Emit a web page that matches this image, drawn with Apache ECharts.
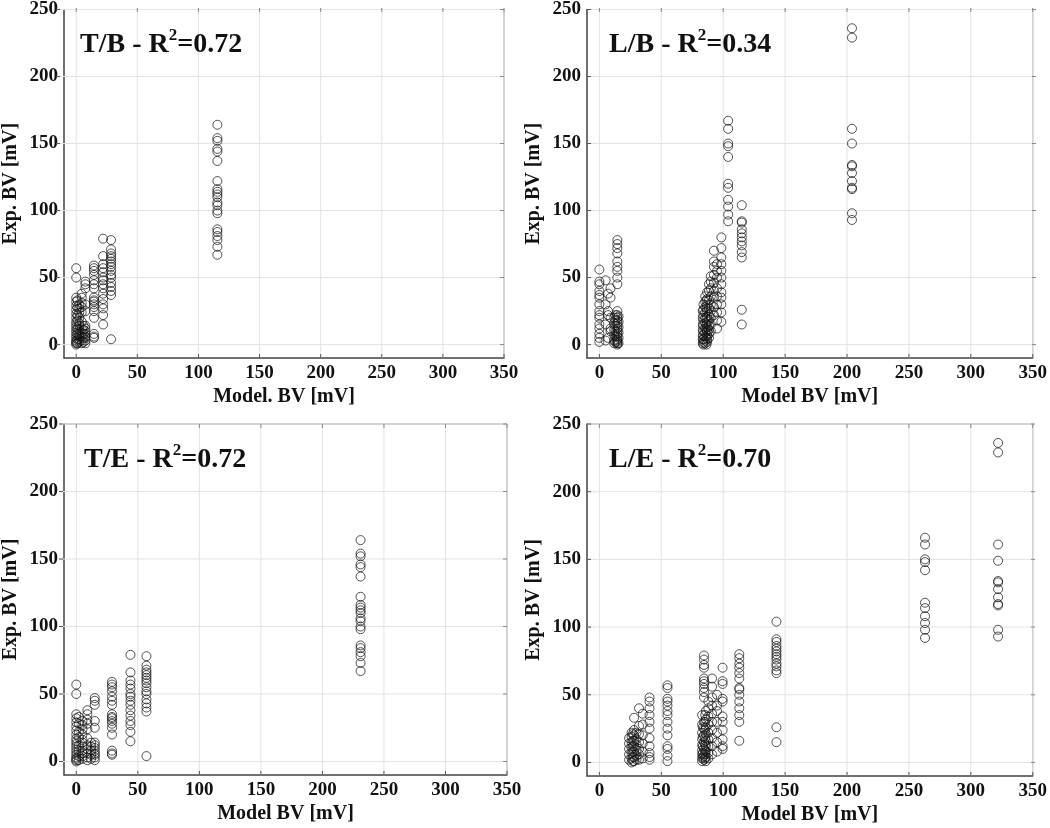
<!DOCTYPE html>
<html><head><meta charset="utf-8">
<script src="https://cdn.jsdelivr.net/npm/echarts@6/dist/echarts.min.js"></script>
<style>html,body{margin:0;padding:0;background:#fff}#c{width:1050px;height:828px}</style>
</head><body><div id="c"></div>
<script>
// ---- data (x = model BV column, ys = measured Exp. BV values) ----
const xTicks = [0, 50, 100, 150, 200, 250, 300, 350];
const yTicks = [0, 50, 100, 150, 200, 250];

// T/B panel
const tbX = [0, 1, 2.5, 4.5, 6, 7.5, 14.5, 22, 28.5, 115.5];
const tbY = [
  [57,50,35,32,29,26,23,20,17,15,13,11,9,7,5,3,2,1,0],
  [33,28,22,18,12,8,4,1],
  [30,27,24,20,16,14,11,8,6,4,2],
  [38,35,31,28,24,17,12,9,6,3,1],
  [14,11,8,5,2],
  [47,45,42,30,25,14,12,10,8,6,5,3,1],
  [59,57,55,52,48,45,42,35,33,32,30,28,25,20,8,6,5],
  [79,66,60,57,54,50,48,45,42,38,34,30,27,22,15],
  [78,71,68,66,64,62,60,58,55,52,50,46,43,40,37,4],
  [164,154,152,146,144,137,122,116,114,112,110,106,104,100,98,86,84,81,78,73,67]
];

// T/E panel
const teX = [0, 2, 5, 9, 12, 15, 29, 44, 57, 231];
const teY = [
  [57,50,35,32,29,26,23,20,17,15,13,11,9,7,5,3,2,1,0],
  [33,28,22,18,12,8,4,1],
  [30,27,24,20,16,14,11,8,6,4,2],
  [38,35,31,28,24,17,12,9,6,3,1],
  [14,11,8,5,2],
  [47,45,42,30,25,14,12,10,8,6,5,3,1],
  [59,57,55,52,48,45,42,35,33,32,30,28,25,20,8,6,5],
  [79,66,60,57,54,50,48,45,42,38,34,30,27,22,15],
  [78,71,68,66,64,62,60,58,55,52,50,46,43,40,37,4],
  [164,154,152,146,144,137,122,116,114,112,110,106,104,100,98,86,84,81,78,73,67]
];

// L/B panel
const lbX = [0, 5, 7, 9, 12, 13, 14.5, 15.5, 83.5, 84, 85.5, 86.5, 87, 88.5, 90, 92.5, 95, 98.5, 104, 115, 204];
const lbY = [
  [56,47,45,40,37,35,30,25,22,20,15,12,8,5,2],
  [48,30,15,3],
  [38,25,22,5],
  [42,35,20,10,12],
  [20,16,11,7,3,1],
  [22,18,14,10,6,2],
  [78,75,72,68,62,58,55,50,45,25,22,20,18,16,14,12,10,8,6,4,3,2,1,0],
  [21,17,13,9,5,1],
  [25,20,15,11,7,4,1],
  [30,26,22,18,14,10,7,4,2,0],
  [36,32,28,24,20,16,12,9,6,3,1],
  [33,27,19,15,11,5,0],
  [39,34,29,25,21,17,13,10,7,4,2],
  [45,40,33,27,22,18,14,11,8,5],
  [51,47,42,36,30,25,20,15,10],
  [70,62,58,52,46,40,35,28,22],
  [60,55,50,42,36,30,24,18,12],
  [80,72,65,60,55,50,45,39,35,30,24,17],
  [167,161,150,148,140,120,117,108,103,97,92],
  [104,92,91,86,83,80,77,74,69,65,26,15],
  [236,229,161,150,134,133,128,122,117,116,98,93]
];

// L/E panel
const leX = [24, 26, 27, 28, 30, 32, 35, 40.5, 55, 83, 83.5, 84.5, 85.5, 86, 88, 91, 95, 99.5, 113, 143, 263, 322];
const leY = [
  [18,14,10,6,2],
  [22,19,15,11,7,3,0],
  [21,16,12,8,4,1],
  [33,24,20,16,12,8,4,1],
  [22,17,13,9,5,2],
  [40,27,21,15,10,6,2],
  [36,28,20,14,8,3],
  [48,45,40,35,30,25,18,12,7,4,2],
  [57,55,47,45,42,38,35,30,25,20,12,10,5,1],
  [35,28,22,17,13,9,6,3,1],
  [26,19,12,7,4],
  [79,76,72,70,62,60,58,55,52,48,30,25,20,15,10,5,2],
  [35,30,24,18,13,9,6,3],
  [38,32,26,21,16,12,8,4,1],
  [45,40,34,28,22,17,12,7,3],
  [62,56,48,42,36,30,24,18,12,6],
  [50,42,38,30,22,15,8],
  [70,60,58,47,45,34,30,24,17,12,10],
  [80,77,73,70,66,62,55,54,50,45,40,35,30,16],
  [104,91,89,86,84,82,80,78,76,73,71,68,66,26,15],
  [166,161,150,148,142,118,114,108,103,98,92],
  [236,229,161,149,134,133,128,122,117,116,98,93]
];

const panels = [
  {name: 'T/B', r2: '0.72', xName: 'Model. BV [mV]', xs: tbX, ys: tbY},
  {name: 'L/B', r2: '0.34', xName: 'Model BV [mV]', xs: lbX, ys: lbY},
  {name: 'T/E', r2: '0.72', xName: 'Model BV [mV]', xs: teX, ys: teY},
  {name: 'L/E', r2: '0.70', xName: 'Model BV [mV]', xs: leX, ys: leY}
];

// ---- layout ----
const grids = [
  {left: 56, top: 8, width: 448, height: 350},
  {left: 587, top: 8, width: 449, height: 350},
  {left: 59, top: 424, width: 448, height: 351},
  {left: 587, top: 424, width: 448, height: 352}
];
const titlePos = [{left: 75, top: 22}, {left: 604, top: 22}, {left: 79, top: 437}, {left: 604, top: 437}];

const FONT = 'Liberation Serif';
const xAxes = [], yAxes = [], series = [], titles = [];
panels.forEach((p, i) => {
  xAxes.push({
    gridIndex: i, type: 'value', min: -10, max: 350, position: 'bottom',
    interval: 10,
    name: p.xName, nameLocation: 'middle', nameGap: 29,
    nameTextStyle: {fontFamily: FONT, fontWeight: 'bold', fontSize: 20, color: '#111'},
    axisLine: {show: true, onZero: false, lineStyle: {color: '#555', width: 1.5}},
    axisTick: {show: false},
    axisLabel: {show: true, margin: 6, fontFamily: FONT, fontWeight: 'bold', fontSize: 19, color: '#111',
      formatter: v => (xTicks.indexOf(v) >= 0 ? String(v) : '')},
    splitLine: {show: false}
  });
  yAxes.push({
    gridIndex: i, type: 'value', min: -10, max: 250, position: 'left',
    interval: 10,
    name: 'Exp. BV [mV]', nameLocation: 'middle', nameGap: 43, nameRotate: 90,
    nameTextStyle: {fontFamily: FONT, fontWeight: 'bold', fontSize: 20, color: '#111'},
    axisLine: {show: true, onZero: false, lineStyle: {color: '#555', width: 1.5}},
    axisTick: {show: false},
    axisLabel: {show: true, margin: 6, fontFamily: FONT, fontWeight: 'bold', fontSize: 19, color: '#111',
      formatter: v => (yTicks.indexOf(v) >= 0 ? String(v) : '')},
    splitLine: {show: false}
  });
  const pts = [];
  p.xs.forEach((x, k) => p.ys[k].forEach(y => pts.push([x, y])));
  series.push({
    type: 'scatter', xAxisIndex: i, yAxisIndex: i, data: pts,
    symbol: 'circle', symbolSize: 9,
    itemStyle: {color: 'rgba(0,0,0,0)', borderColor: '#111', borderWidth: 0.9},
    silent: true, z: 5
  });
  titles.push({
    text: '{a|' + p.name + ' - R}{s|2}{a|=' + p.r2 + '}',
    left: titlePos[i].left, top: titlePos[i].top,
    textStyle: {rich: {
      a: {fontFamily: FONT, fontWeight: 'bold', fontSize: 28, color: '#111', lineHeight: 32, verticalAlign: 'bottom'},
      s: {fontFamily: FONT, fontWeight: 'bold', fontSize: 17, color: '#111', lineHeight: 32, verticalAlign: 'top'}
    }}
  });
});

const option = {
  animation: false,
  backgroundColor: '#fff',
  title: titles,
  grid: grids.map(g => Object.assign({show: true, borderColor: '#888', borderWidth: 1, backgroundColor: '#fff'}, g)),
  xAxis: xAxes,
  yAxis: yAxes,
  series: series
};
const chart = echarts.init(document.getElementById('c'), null, {renderer: 'canvas'});
chart.setOption(option);

// grid lines and inward ticks at the tick values, placed through the axis scales
const gfx = [];
panels.forEach((p, i) => {
  const g = grids[i];
  xTicks.forEach(v => {
    const px = chart.convertToPixel({xAxisIndex: i}, v);
    gfx.push({type: 'line', shape: {x1: px, y1: g.top, x2: px, y2: g.top + g.height}, style: {stroke: '#e3e3e3', lineWidth: 1}, z: 1, silent: true});
    gfx.push({type: 'line', shape: {x1: px, y1: g.top + g.height, x2: px, y2: g.top + g.height - 4}, style: {stroke: '#555', lineWidth: 1}, z: 10, silent: true});
    gfx.push({type: 'line', shape: {x1: px, y1: g.top, x2: px, y2: g.top + 4}, style: {stroke: '#888', lineWidth: 1}, z: 10, silent: true});
  });
  yTicks.forEach(v => {
    const py = chart.convertToPixel({yAxisIndex: i}, v);
    gfx.push({type: 'line', shape: {x1: g.left, y1: py, x2: g.left + g.width, y2: py}, style: {stroke: '#e3e3e3', lineWidth: 1}, z: 1, silent: true});
    gfx.push({type: 'line', shape: {x1: g.left, y1: py, x2: g.left + 4, y2: py}, style: {stroke: '#555', lineWidth: 1}, z: 10, silent: true});
    gfx.push({type: 'line', shape: {x1: g.left + g.width, y1: py, x2: g.left + g.width - 4, y2: py}, style: {stroke: '#888', lineWidth: 1}, z: 10, silent: true});
  });
});
chart.setOption({graphic: gfx});
</script></body></html>
